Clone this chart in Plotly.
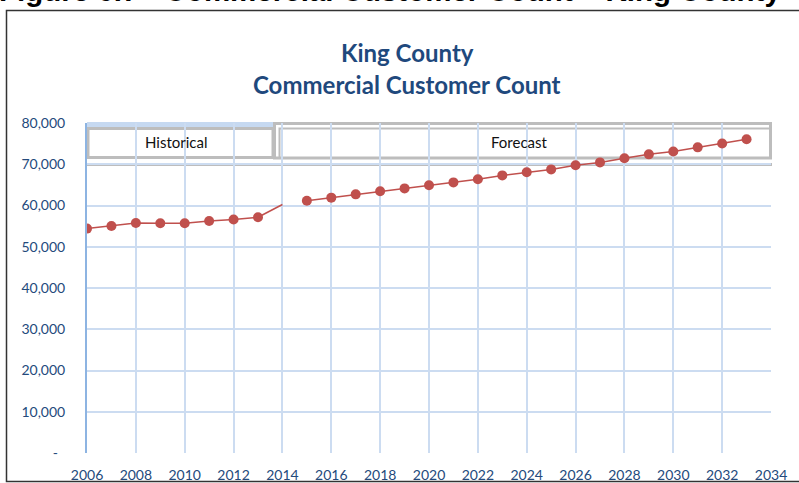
import plotly.graph_objects as go

# ---------------- data ----------------
hist_years = [2006, 2007, 2008, 2009, 2010, 2011, 2012, 2013, 2014]
hist_values = [54400, 55050, 55750, 55700, 55700, 56250, 56600, 57150, 60250]

fc_years = list(range(2015, 2034))
fc_values = [61150, 61900, 62700, 63450, 64150, 64900, 65600, 66350, 67300,
             68050, 68750, 69750, 70450, 71450, 72400, 73100, 74100, 75050, 76050]

y_tickvals = [0, 10000, 20000, 30000, 40000, 50000, 60000, 70000, 80000]
y_ticktext = ["-\u00a0\u00a0", "10,000", "20,000", "30,000", "40,000",
              "50,000", "60,000", "70,000", "80,000"]
x_tickvals = list(range(2006, 2036, 2))

title_lines = ["King County", "Commercial Customer Count"]
box_labels = ["Historical", "Forecast"]
figure_caption = "Figure 6.7 - Commercial Customer Count \u2013 King County"

# ---------------- layout helpers (pixel -> paper) ----------------
W, H = 799, 483
L, R, T, B = 87, 28, 123, 30
PW, PH = W - L - R, H - T - B


def fx(px):
    return (px - L) / PW


def fy(py):
    return (H - B - py) / PH


BLUE_TXT = "#244A7C"
GRID = "#CCDCF1"
RED = "#C0504D"
GRAY = "#BDBDBD"

fig = go.Figure()

# historical points (with markers) 2006-2013
fig.add_trace(go.Scatter(
    x=hist_years[:-1], y=hist_values[:-1], mode="lines+markers",
    line=dict(color=RED, width=1.5),
    marker=dict(color=RED, size=10, line=dict(width=0)),
    showlegend=False, hoverinfo="x+y"))
# historical segment running on to 2014 (no marker shown in source)
fig.add_trace(go.Scatter(
    x=hist_years[-2:], y=hist_values[-2:], mode="lines",
    line=dict(color=RED, width=1.5),
    showlegend=False, hoverinfo="x+y"))

fig.add_trace(go.Scatter(
    x=fc_years, y=fc_values, mode="lines+markers",
    line=dict(color=RED, width=1.5),
    marker=dict(color=RED, size=10, line=dict(width=0)),
    showlegend=False, hoverinfo="x+y"))

shapes = []
# Historical box: white background, blue strip, gray outline
shapes.append(dict(type="rect", xref="paper", yref="paper", layer="between",
                   x0=fx(86), x1=fx(274), y0=fy(166), y1=fy(121.5),
                   fillcolor="white", line=dict(width=0)))
shapes.append(dict(type="rect", xref="paper", yref="paper", layer="between",
                   x0=fx(87), x1=fx(274), y0=fy(128), y1=fy(122),
                   fillcolor="#C6D9F1", line=dict(width=0)))
shapes.append(dict(type="rect", xref="paper", yref="paper", layer="between",
                   x0=fx(88), x1=fx(273), y0=fy(157.5), y1=fy(128.5),
                   fillcolor="rgba(0,0,0,0)", line=dict(color=GRAY, width=3)))
# Forecast box: double gray outline with white gap
shapes.append(dict(type="rect", xref="paper", yref="paper", layer="between",
                   x0=fx(274), x1=fx(771), y0=fy(128), y1=fy(125),
                   fillcolor="white", line=dict(width=0)))
shapes.append(dict(type="rect", xref="paper", yref="paper", layer="between",
                   x0=fx(274), x1=fx(279), y0=fy(158), y1=fy(125),
                   fillcolor="white", line=dict(width=0)))
shapes.append(dict(type="rect", xref="paper", yref="paper", layer="between",
                   x0=fx(274.5), x1=fx(770.5), y0=fy(158), y1=fy(123.5),
                   fillcolor="rgba(0,0,0,0)", line=dict(color=GRAY, width=3)))
shapes.append(dict(type="rect", xref="paper", yref="paper", layer="between",
                   x0=fx(279.5), x1=fx(770.5), y0=fy(158), y1=fy(128.5),
                   fillcolor="rgba(0,0,0,0)", line=dict(color=GRAY, width=2)))
# gray rule under the boxes
shapes.append(dict(type="line", xref="paper", yref="paper", layer="between",
                   x0=fx(87), x1=fx(772), y0=fy(164.5), y1=fy(164.5),
                   line=dict(color=GRAY, width=3)))
# outer chart frame
shapes.append(dict(type="rect", xref="paper", yref="paper", layer="above",
                   x0=fx(6.5), x1=fx(820), y0=fy(481.5), y1=fy(10.5),
                   fillcolor="rgba(0,0,0,0)", line=dict(color="#333333", width=1.5)))

annotations = [
    dict(text=f"<b>{title_lines[0]}</b>", xref="paper", yref="paper",
         x=fx(407), y=fy(52), xanchor="center", yanchor="middle", showarrow=False,
         font=dict(family="Lato", size=24, color="#1F497D")),
    dict(text=f"<b>{title_lines[1]}</b>", xref="paper", yref="paper",
         x=fx(407), y=fy(85), xanchor="center", yanchor="middle", showarrow=False,
         font=dict(family="Lato", size=24, color="#1F497D")),
    dict(text=box_labels[0], xref="paper", yref="paper",
         x=fx(176), y=fy(141.5), xanchor="center", yanchor="middle", showarrow=False,
         font=dict(family="Lato", size=15, color="#111111")),
    dict(text=box_labels[1], xref="paper", yref="paper",
         x=fx(519), y=fy(141.5), xanchor="center", yanchor="middle", showarrow=False,
         font=dict(family="Lato", size=15, color="#111111")),
    dict(text=f"<b>{figure_caption}</b>", xref="paper", yref="paper",
         x=fx(-3), y=fy(9.5), xanchor="left", yanchor="bottom", showarrow=False,
         font=dict(family="Liberation Sans", size=29.5, color="#000000")),
]

fig.update_layout(
    width=W, height=H,
    margin=dict(l=L, r=R, t=T, b=B, pad=0, autoexpand=False),
    paper_bgcolor="white", plot_bgcolor="white",
    shapes=shapes, annotations=annotations,
    xaxis=dict(range=[2006, 2034], tickvals=x_tickvals, showgrid=True,
               gridcolor=GRID, gridwidth=2, zeroline=False, showline=False,
               ticks="", ticklabelstandoff=12, automargin=False,
               tickfont=dict(family="Lato", size=14, color=BLUE_TXT)),
    yaxis=dict(range=[0, 80000], tickvals=y_tickvals, ticktext=y_ticktext,
               showgrid=True, gridcolor=GRID, gridwidth=2, zeroline=False,
               showline=True, linecolor="#8DB4E2", linewidth=2,
               ticks="", ticklabelstandoff=17, automargin=False,
               tickfont=dict(family="Lato", size=14, color=BLUE_TXT)),
)

fig.write_html("out.html",
               config={"displayModeBar": False},
               post_script="document.body.style.margin='0';"
                           "document.body.style.overflow='hidden';")
